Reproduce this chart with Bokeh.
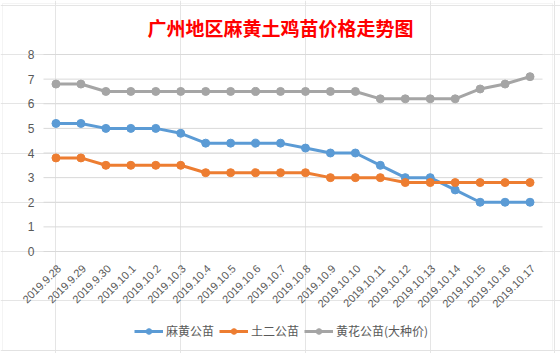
import math
from bokeh.plotting import figure
from bokeh.models import Legend, LegendItem, Label, BoxAnnotation, Range1d
from bokeh.core.properties import value
from bokeh.embed import file_html
from bokeh.resources import INLINE

dates = ["2019.9.28", "2019.9.29", "2019.9.30", "2019.10.1", "2019.10.2", "2019.10.3",
         "2019.10.4", "2019.10.5", "2019.10.6", "2019.10.7", "2019.10.8", "2019.10.9",
         "2019.10.10", "2019.10.11", "2019.10.12", "2019.10.13", "2019.10.14",
         "2019.10.15", "2019.10.16", "2019.10.17"]
mahuang = [5.2, 5.2, 5.0, 5.0, 5.0, 4.8, 4.4, 4.4, 4.4, 4.4, 4.2, 4.0, 4.0, 3.5, 3.0, 3.0, 2.5, 2.0, 2.0, 2.0]
tuer = [3.8, 3.8, 3.5, 3.5, 3.5, 3.5, 3.2, 3.2, 3.2, 3.2, 3.2, 3.0, 3.0, 3.0, 2.8, 2.8, 2.8, 2.8, 2.8, 2.8]
huanghua = [6.8, 6.8, 6.5, 6.5, 6.5, 6.5, 6.5, 6.5, 6.5, 6.5, 6.5, 6.5, 6.5, 6.2, 6.2, 6.2, 6.2, 6.6, 6.8, 7.1]
y_ticks = [0, 1, 2, 3, 4, 5, 6, 7, 8]
series_names = ["麻黄公苗", "土二公苗", "黄花公苗(大种价)"]
colors = ["#5B9BD5", "#ED7D31", "#A5A5A5"]
title_text = "广州地区麻黄土鸡苗价格走势图"

CJK = "Noto Sans CJK SC"
GRAY = "#595959"

# layout (pixels) of the plotting area inside the 560x353 canvas
W, H = 560, 353
PL, PR, PT, PB = 43, 542, 54, 251
n = len(dates)
idx = list(range(n))
ppx = (PR - PL) / n
ppy = (PB - PT) / (y_ticks[-1] - y_ticks[0])
x_range = Range1d(-0.5 - PL / ppx, n - 0.5 + (W - PR) / ppx)
y_range = Range1d(y_ticks[0] - (H - PB) / ppy, y_ticks[-1] + PT / ppy)

p = figure(width=W, height=H, x_range=x_range, y_range=y_range,
           x_axis_location=None, y_axis_location=None,
           output_backend="svg", toolbar_location=None, min_border=0)
p.outline_line_color = None
p.background_fill_color = "white"
p.border_fill_color = "white"

# horizontal gridlines at the value ticks
p.segment(x0=-0.5, x1=n - 0.5, y0=y_ticks, y1=y_ticks, line_color="#D9D9D9", line_width=1)

# value tick labels
p.text(x=-0.5, y=y_ticks, text=[str(t) for t in y_ticks], x_offset=-9,
       text_align="right", text_baseline="middle", text_color=GRAY,
       text_font=value("Liberation Sans"), text_font_size="12px")

# category tick labels, rotated 45 degrees
p.text(x=idx, y=y_ticks[0], text=dates, angle=math.pi / 4, x_offset=3, y_offset=15,
       text_align="right", text_baseline="middle", text_color=GRAY,
       text_font=value("Liberation Sans"), text_font_size="11px")

items = []
for name, vals, c in zip(series_names, [mahuang, tuer, huanghua], colors):
    r1 = p.line(idx, vals, line_color=c, line_width=3)
    r2 = p.scatter(idx, vals, size=8, fill_color=c, line_color=c)
    items.append(LegendItem(label=name, renderers=[r1, r2]))

# chart border
p.add_layout(BoxAnnotation(left=2, right=552, bottom=3, top=350,
                           left_units="screen", right_units="screen",
                           bottom_units="screen", top_units="screen",
                           fill_alpha=0, line_color="#D9D9D9", line_width=1))

p.add_layout(Label(x=280, y=H - 27, x_units="screen", y_units="screen", text=title_text,
                   text_align="center", text_baseline="middle", text_color="#FF0000",
                   text_font=CJK, text_font_size="19px", text_font_style="bold"))

legend = Legend(items=items, orientation="horizontal", location=(134, 14),
                label_text_font=CJK, label_text_font_size="12px", label_text_color=GRAY,
                glyph_width=29, glyph_height=14, label_height=14, spacing=5, label_standoff=3,
                border_line_color=None, background_fill_alpha=0, margin=0, padding=0)
p.add_layout(legend)

open("out.html", "w").write(file_html(p, INLINE))
